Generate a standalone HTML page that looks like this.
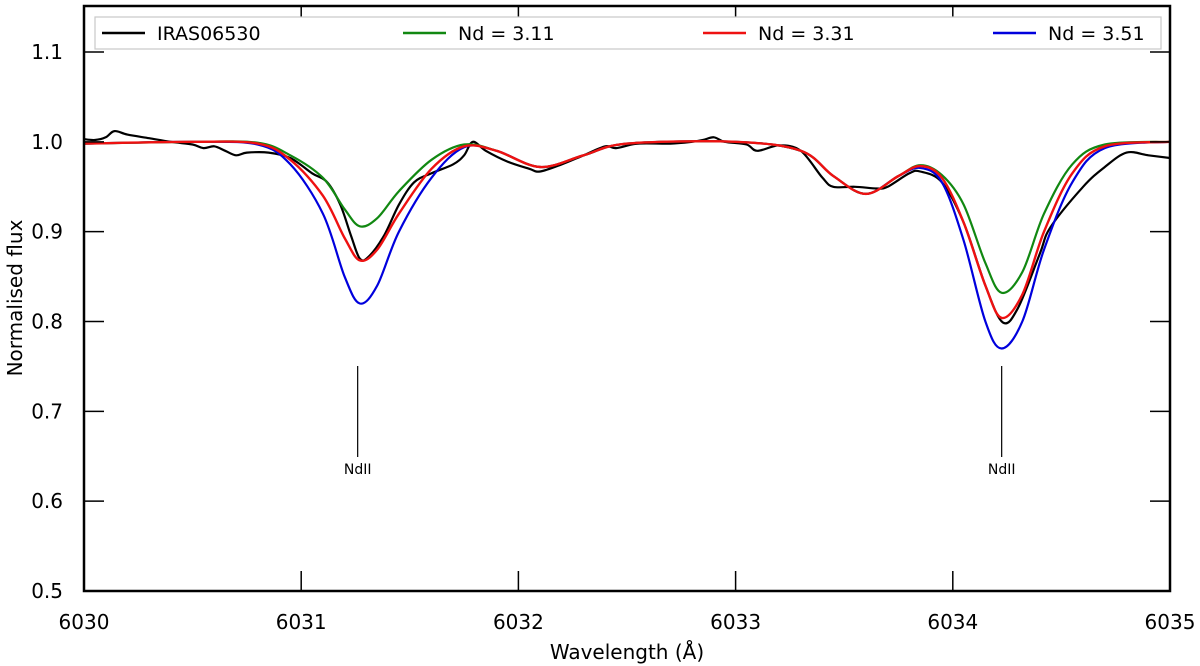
<!DOCTYPE html>
<html><head><meta charset="utf-8"><style>
body{margin:0;background:#fff}
svg{display:block;font-family:"DejaVu Sans","Liberation Sans",sans-serif}
</style></head><body>
<svg id="chart" width="1200" height="666" viewBox="0 0 1200 666">
<rect x="0" y="0" width="1200" height="666" fill="#fff"/>
<g id="series"></g>
<g id="axes"></g>
<g id="legend"></g>
</svg>
<script>
const xTicks=[6030,6031,6032,6033,6034,6035];
const yTicks=[0.5,0.6,0.7,0.8,0.9,1.0,1.1];
const xTickLabels=["6030","6031","6032","6033","6034","6035"];
const yTickLabels=["0.5","0.6","0.7","0.8","0.9","1.0","1.1"];
const lineMarkers=[6031.26,6034.225];
const lineMarkerLabels=["NdII","NdII"];
const seriesNames=["IRAS06530","Nd = 3.11","Nd = 3.31","Nd = 3.51"];
const obsWave=[6030.00,6030.05,6030.10,6030.14,6030.20,6030.30,6030.40,6030.50,6030.55,6030.60,6030.65,6030.70,6030.75,6030.85,6030.95,6031.05,6031.12,6031.18,6031.23,6031.27,6031.31,6031.38,6031.45,6031.52,6031.60,6031.70,6031.75,6031.79,6031.85,6031.95,6032.05,6032.10,6032.20,6032.30,6032.40,6032.45,6032.55,6032.70,6032.80,6032.85,6032.90,6032.95,6033.05,6033.10,6033.20,6033.30,6033.40,6033.45,6033.55,6033.65,6033.70,6033.80,6033.85,6033.95,6034.05,6034.15,6034.23,6034.30,6034.40,6034.45,6034.60,6034.70,6034.80,6034.90,6035.00];
const obsFlux=[1.003,1.002,1.005,1.012,1.008,1.004,1.000,0.997,0.993,0.995,0.990,0.985,0.988,0.988,0.982,0.965,0.955,0.930,0.895,0.870,0.872,0.895,0.930,0.955,0.965,0.975,0.985,1.000,0.990,0.978,0.970,0.967,0.975,0.985,0.995,0.993,0.998,0.998,1.000,1.002,1.005,1.000,0.997,0.990,0.996,0.990,0.960,0.950,0.950,0.948,0.950,0.965,0.967,0.955,0.910,0.840,0.799,0.815,0.875,0.905,0.950,0.972,0.988,0.985,0.982];
const modelWave=[6030.0,6030.5,6030.8,6030.95,6031.1,6031.2,6031.27,6031.35,6031.45,6031.6,6031.75,6031.9,6032.1,6032.3,6032.5,6033.0,6033.3,6033.45,6033.6,6033.75,6033.85,6033.95,6034.05,6034.15,6034.225,6034.32,6034.42,6034.55,6034.7,6035.0];
const fluxNd311=[0.998,1.0,0.999,0.985,0.96,0.925,0.906,0.915,0.945,0.98,0.997,0.99,0.972,0.985,0.998,1.0,0.99,0.962,0.942,0.962,0.974,0.963,0.93,0.865,0.832,0.855,0.92,0.975,0.997,1.0];
const fluxNd331=[0.998,1.0,0.998,0.98,0.94,0.893,0.868,0.88,0.92,0.97,0.995,0.99,0.972,0.985,0.998,1.0,0.99,0.962,0.942,0.962,0.973,0.96,0.91,0.84,0.804,0.83,0.9,0.965,0.995,1.0];
const fluxNd351=[0.998,1.0,0.997,0.975,0.92,0.85,0.82,0.84,0.9,0.96,0.994,0.99,0.972,0.985,0.998,1.0,0.99,0.962,0.942,0.962,0.971,0.955,0.89,0.80,0.770,0.80,0.88,0.955,0.993,1.0];

const L=84,R=1170,T=6,B=591,X0=6030,X1=6035,Y0=0.5,Y1=1.1;
const yPer=(B-52)/(Y1-Y0);
function xs(v){return L+(v-X0)*(R-L)/(X1-X0);}
function ys(v){return B-(v-Y0)*yPer;}
const NS="http://www.w3.org/2000/svg";
function mk(tag,attrs,parent){const e=document.createElementNS(NS,tag);for(const k in attrs)e.setAttribute(k,attrs[k]);parent.appendChild(e);return e;}
function pathD(wx,fy,smooth){
  const p=wx.map((w,i)=>[xs(w),ys(fy[i])]);
  if(!smooth)return "M"+p.map(q=>q[0].toFixed(1)+","+q[1].toFixed(1)).join("L");
  let d="M"+p[0][0].toFixed(1)+","+p[0][1].toFixed(1);
  for(let i=0;i<p.length-1;i++){
    const a=p[Math.max(0,i-1)],b=p[i],c=p[i+1],e=p[Math.min(p.length-1,i+2)];
    const c1=[b[0]+(c[0]-a[0])/6,b[1]+(c[1]-a[1])/6],c2=[c[0]-(e[0]-b[0])/6,c[1]-(e[1]-b[1])/6];
    d+="C"+c1[0].toFixed(1)+","+c1[1].toFixed(1)+" "+c2[0].toFixed(1)+","+c2[1].toFixed(1)+" "+c[0].toFixed(1)+","+c[1].toFixed(1);
  }
  return d;
}
const sg=document.getElementById("series");
const defs=mk("defs",{},sg);
const cp=mk("clipPath",{id:"clip"},defs);
mk("rect",{x:L,y:T,width:R-L,height:B-T},cp);
const cg=mk("g",{"clip-path":"url(#clip)"},sg);
let el;
el=mk("path",{d:pathD(obsWave,obsFlux,true),fill:"none",stroke:"#000","stroke-width":2.2},cg);


el=mk("path",{d:pathD(modelWave,fluxNd351,true),fill:"none",stroke:"#0000dd","stroke-width":2.2},cg);


el=mk("path",{d:pathD(modelWave,fluxNd311,true),fill:"none",stroke:"#118811","stroke-width":2.2},cg);


el=mk("path",{d:pathD(modelWave,fluxNd331,true),fill:"none",stroke:"#ee1111","stroke-width":2.4},cg);


lineMarkers.forEach((w,i)=>{
  const m=mk("line",{x1:xs(w),x2:xs(w),y1:366,y2:457,stroke:"#000","stroke-width":1.2},sg);
  
  
  const t=mk("text",{x:xs(w),y:474,"text-anchor":"middle","font-size":14},sg);
  t.textContent=lineMarkerLabels[i];
  
  
});
const ag=document.getElementById("axes");
xTicks.forEach((v,i)=>{
  mk("line",{x1:xs(v),x2:xs(v),y1:B,y2:B-20,stroke:"#000","stroke-width":1.5},ag);
  mk("line",{x1:xs(v),x2:xs(v),y1:T,y2:T+20,stroke:"#000","stroke-width":1.5},ag);
  const t=mk("text",{x:xs(v),y:629,"text-anchor":"middle","font-size":20},ag);
  t.textContent=xTickLabels[i];
  
  
});
yTicks.forEach((v,i)=>{
  mk("line",{x1:L,x2:L+20,y1:ys(v),y2:ys(v),stroke:"#000","stroke-width":1.5},ag);
  mk("line",{x1:R,x2:R-20,y1:ys(v),y2:ys(v),stroke:"#000","stroke-width":1.5},ag);
  const t=mk("text",{x:63,y:ys(v)+7,"text-anchor":"end","font-size":20},ag);
  t.textContent=yTickLabels[i];
  
  
});
el=mk("rect",{x:L,y:T,width:R-L,height:B-T,fill:"none",stroke:"#000","stroke-width":2.5},ag);


el=mk("text",{x:627,y:659,"text-anchor":"middle","font-size":20},ag);
el.textContent="Wavelength (Å)";


el=mk("text",{x:0,y:0,"text-anchor":"middle","font-size":20,transform:"translate(22,298) rotate(-90)"},ag);
el.textContent="Normalised flux";


const lg=document.getElementById("legend");
el=mk("rect",{x:95,y:17,width:1066,height:32,fill:"#fff",stroke:"#c8c8c8","stroke-width":1.2},lg);


const lgColors=["#000","#118811","#ee1111","#0000dd"];
const lgX=[102,403,703,993];
seriesNames.forEach((n,i)=>{
  const g=mk("g",{},lg);
  
  
  mk("line",{x1:lgX[i],x2:lgX[i]+43,y1:33,y2:33,stroke:lgColors[i],"stroke-width":2.5},g);
  const t=mk("text",{x:lgX[i]+55,y:40,"font-size":19},g);
  t.textContent=n;
});
</script>
</body></html>
